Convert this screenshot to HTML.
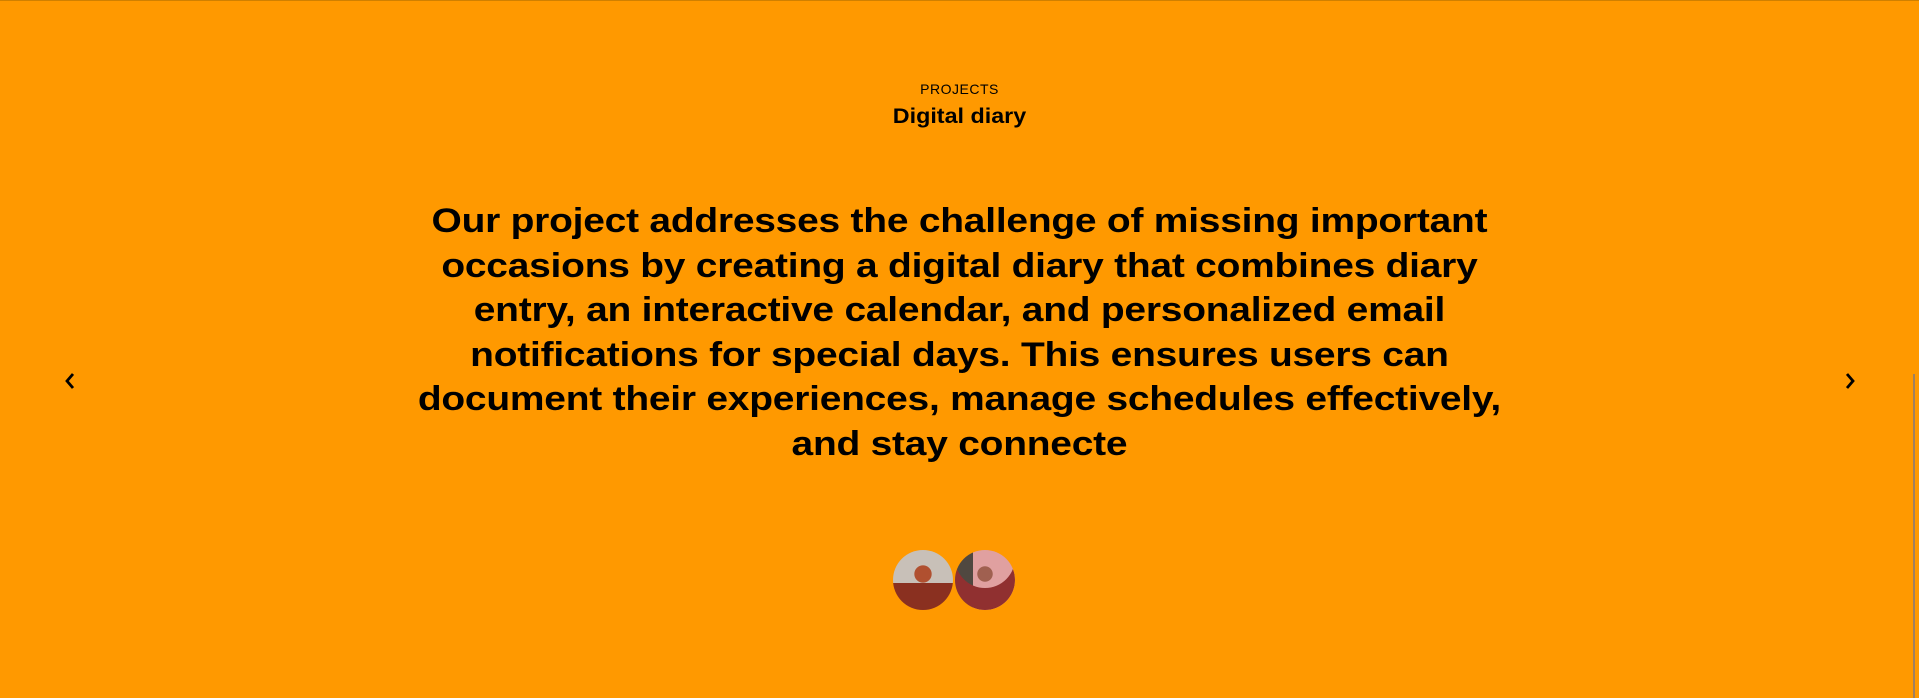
<!DOCTYPE html>
<html><head><meta charset="utf-8"><style>
html,body{margin:0;padding:0;width:1919px;height:698px;overflow:hidden;background:#ff9900;font-family:"Liberation Sans",sans-serif;color:#000}
.abs{position:absolute}
#top{left:0;top:0;width:1919px;height:1px;background:#d08000}
#cat{left:0;width:1919px;top:81px;text-align:center;font-size:14px;letter-spacing:0.5px}
#title{left:0;width:1919px;top:105px;text-align:center;font-size:21px;font-weight:bold;transform:scaleX(1.11)}
#desc{left:0;width:1919px;top:199px;text-align:center;font-size:34px;font-weight:bold;line-height:44.5px;white-space:nowrap;letter-spacing:-0.2px;transform:scaleX(1.145);transform-origin:960px 0}
.av{width:60px;height:60px;border-radius:50%;top:550px}
#scroll{left:1913px;top:374px;width:2px;height:324px;background:#a08060}
</style></head><body>
<div id="top" class="abs"></div>
<div id="cat" class="abs">PROJECTS</div>
<div id="title" class="abs">Digital diary</div>
<div id="desc" class="abs">Our project addresses the challenge of missing important<br>occasions by creating a digital diary that combines diary<br>entry, an interactive calendar, and personalized email<br>notifications for special days. This ensures users can<br>document their experiences, manage schedules effectively,<br>and stay connecte</div>
<svg class="abs" style="left:62px;top:371px" width="16" height="20"><polyline points="11,3 5,10 11,17" fill="none" stroke="#000" stroke-width="2.8"/></svg>
<svg class="abs" style="left:1842px;top:371px" width="16" height="20"><polyline points="5,3 11,10 5,17" fill="none" stroke="#000" stroke-width="2.8"/></svg>
<div class="abs av" style="left:893px;background:radial-gradient(circle at 50% 40%,#b05030 0 18%,transparent 19%),linear-gradient(#c8c0b8 0 55%,#8a3020 55% 100%)"></div>
<div class="abs av" style="left:955px;background:radial-gradient(circle at 50% 40%,#a06050 0 16%,transparent 17%),linear-gradient(90deg,#504840 0 30%,#e0a0a0 30% 100%);box-shadow:inset 0 -22px 0 #903030"></div>
<div id="scroll" class="abs"></div>
</body></html>
